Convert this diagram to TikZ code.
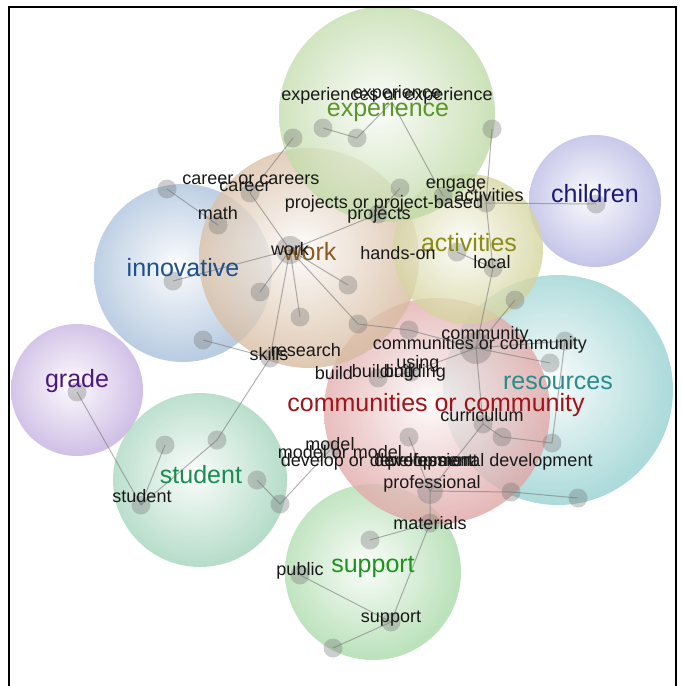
\documentclass[tikz,border=0pt]{standalone}
\usepackage{fontspec}
\setmainfont{Liberation Sans}
\definecolor{cExp}{RGB}{150,195,110}
\definecolor{cWork}{RGB}{190,145,100}
\definecolor{cInno}{RGB}{110,150,195}
\definecolor{cChild}{RGB}{135,135,210}
\definecolor{cAct}{RGB}{185,185,95}
\definecolor{cRes}{RGB}{85,180,180}
\definecolor{cComm}{RGB}{205,110,110}
\definecolor{cGrade}{RGB}{160,125,205}
\definecolor{cStud}{RGB}{105,185,145}
\definecolor{cSupp}{RGB}{115,195,115}
\definecolor{tExp}{RGB}{90,150,40}
\definecolor{tWork}{RGB}{140,90,30}
\definecolor{tInno}{RGB}{30,80,140}
\definecolor{tChild}{RGB}{25,25,125}
\definecolor{tAct}{RGB}{140,140,20}
\definecolor{tRes}{RGB}{40,140,140}
\definecolor{tComm}{RGB}{160,20,25}
\definecolor{tGrade}{RGB}{75,25,125}
\definecolor{tStud}{RGB}{25,140,80}
\definecolor{tSupp}{RGB}{25,150,25}
\newcommand\mkbub[2]{\pgfdeclareradialshading{bub#1}{\pgfpoint{-2bp}{2bp}}{color(0bp)=(white); color(5bp)=(#2!15!white); color(25bp)=(#2!60!white); color(50bp)=(#2); color(70bp)=(#2)}}
\mkbub{Exp}{cExp}\mkbub{Work}{cWork}\mkbub{Inno}{cInno}\mkbub{Child}{cChild}
\mkbub{Act}{cAct}\mkbub{Res}{cRes}\mkbub{Comm}{cComm}\mkbub{Grade}{cGrade}
\mkbub{Stud}{cStud}\mkbub{Supp}{cSupp}
\tikzset{
  bub/.style={fill opacity=0.78, draw=none},
  word/.style={font=\fontsize{18}{18}\selectfont, text=black!90, inner sep=0pt},
  topic/.style={font=\fontsize{25}{25}\selectfont, inner sep=0pt},
  link/.style={draw=black!55, line width=1pt, opacity=0.55},
  dotfill/.style={fill=black!55, fill opacity=0.35}
}
\begin{document}
\begin{tikzpicture}[x=1pt,y=-1pt]
\useasboundingbox (0,0) rectangle (681,686);
\clip (0,0) rectangle (681,686);
\fill[white] (0,0) rectangle (681,686);
% bubbles
\shade[shading=bubInno,bub] (183,273) circle (89pt);
\shade[shading=bubGrade,bub] (77,390) circle (66pt);
\shade[shading=bubStud,bub] (200,480) circle (87pt);
\shade[shading=bubSupp,bub] (373,572) circle (88pt);
\shade[shading=bubRes,bub] (558,390) circle (115pt);
\shade[shading=bubChild,bub] (595,201) circle (66pt);
\shade[shading=bubComm,bub] (437,411) circle (113pt);
\shade[shading=bubWork,bub] (309,258) circle (110pt);
\shade[shading=bubAct,bub] (468,249) circle (75pt);
\shade[shading=bubExp,bub] (387,114) circle (108pt);
% frame
\draw[line width=2pt] (9,700) -- (9,7) -- (676,7) -- (676,700);
% dot coordinates
\coordinate (eA) at (293,138); \coordinate (eB) at (323,128); \coordinate (eC) at (357,138);
\coordinate (eD) at (492,129); \coordinate (eE) at (392,102);
\coordinate (cc) at (167,189); \coordinate (ca) at (250,193); \coordinate (ma) at (218,225);
\coordinate (wk) at (290,250);
\coordinate (w1) at (348,285); \coordinate (w2) at (260,292); \coordinate (w3) at (300,317);
\coordinate (in1) at (173,281); \coordinate (in2) at (203,340); \coordinate (sk) at (270,358);
\coordinate (pb) at (400,188); \coordinate (pj) at (378,214);
\coordinate (eg) at (443,196); \coordinate (ac) at (486,203); \coordinate (av) at (457,252);
\coordinate (lo) at (493,268); \coordinate (a2) at (515,300); \coordinate (ch) at (596,204);
\coordinate (cm) at (476,348); \coordinate (r1) at (550,363); \coordinate (r2) at (565,341);
\coordinate (cu) at (483,424); \coordinate (r3) at (502,437); \coordinate (r4) at (552,443);
\coordinate (r5) at (578,498); \coordinate (r6) at (511,492);
\coordinate (pd) at (430,491); \coordinate (mt) at (430,523); \coordinate (s1) at (370,540);
\coordinate (pu) at (300,575); \coordinate (su) at (391,622); \coordinate (s2) at (333,648);
\coordinate (t1) at (280,504); \coordinate (t2) at (257,480); \coordinate (t3) at (217,440);
\coordinate (t4) at (165,445); \coordinate (st) at (141,505); \coordinate (gr) at (77,392);
\coordinate (bu) at (378,378); \coordinate (bg) at (411,372); \coordinate (dv) at (409,437);
\coordinate (mo) at (330,450); \coordinate (re) at (358,324); \coordinate (us) at (409,330);
% links
\draw[link] (eA) -- (ca);
\draw[link] (eB) -- (eC) -- (eE) -- (eg);
\draw[link] (eD) -- (ac);
\draw[link] (cc) -- (ma);
\draw[link] (ca) -- (wk);
\draw[link] (wk) -- (in1);
\draw[link] (wk) -- (pj) -- (pb);
\draw[link] (wk) -- (w1);
\draw[link] (wk) -- (w2);
\draw[link] (wk) -- (w3);
\draw[link] (wk) -- (sk);
\draw[link] (wk) -- (re);
\draw[link] (ac) -- (ch);
\draw[link] (ac) -- (lo) -- (cm);
\draw[link] (av) -- (lo);
\draw[link] (a2) -- (cm);
\draw[link] (re) -- (us) -- (cm);
\draw[link] (cm) -- (r1);
\draw[link] (cm) -- (r2) -- (r4);
\draw[link] (cm) -- (cu) -- (r3) -- (r4);
\draw[link] (r5) -- (r6) -- (pd);
\draw[link] (pd) -- (cu);
\draw[link] (pd) -- (mt) -- (s1);
\draw[link] (mt) -- (su);
\draw[link] (pu) -- (su) -- (s2);
\draw[link] (t2) -- (t1) -- (mo);
\draw[link] (st) -- (t3) -- (sk);
\draw[link] (t4) -- (st);
\draw[link] (gr) -- (st);
\draw[link] (in2) -- (sk);
\draw[link] (bu) -- (bg) -- (cm);
\draw[link] (dv) -- (pd);
% dots
\foreach \p in {eA,eB,eC,eD,cc,ca,ma,w1,w2,w3,in1,in2,sk,pb,pj,eg,ac,av,lo,a2,ch,r1,r2,cu,r3,r4,r5,r6,mt,s1,pu,su,s2,t1,t2,t3,t4,st,gr,bu,bg,dv,mo,re,us}
  \fill[dotfill] (\p) circle (9.5pt);
\fill[dotfill] (wk) circle (14pt);
\fill[dotfill] (cm) circle (16pt);
\fill[dotfill] (pd) circle (13pt);
% topic labels
\node[topic,text=tExp] (lExp) at (388,110) {experience};
\node[topic,text=tWork] (lWork) at (310,252) {work};
\node[topic,text=tInno] (lInno) at (183,268) {innovative};
\node[topic,text=tChild] (lChild) at (595,194) {children};
\node[topic,text=tAct] (lAct) at (469,243) {activities};
\node[topic,text=tRes] (lRes) at (558,383) {resources};
\node[topic,text=tComm] (lComm) at (436,405) {communities or community};
\node[topic,text=tGrade] (lGrade) at (77,381) {grade};
\node[topic,text=tStud] (lStud) at (201,475) {student};
\node[topic,text=tSupp] (lSupp) at (373,567) {support};
% words
\node[word] (w01) at (387,96) {experiences or experience};
\node[word] (w02) at (397,94) {experience};
\node[word] (w03) at (251,180) {career or careers};
\node[word] (w04) at (245,187) {career};
\node[word] (w05) at (218,213) {math};
\node[word] (w06) at (384,204) {projects or project-based};
\node[word] (w07) at (379,215) {projects};
\node[word] (w08) at (290,249) {work};
\node[word] (w09) at (398,253) {hands-on};
\node[word] (w10) at (456,186) {engage};
\node[word] (w11) at (489,195) {activities};
\node[word] (w12) at (492,262) {local};
\node[word] (w13) at (269,354) {skills};
\node[word] (w14) at (306,350) {research};
\node[word] (w15) at (480,345) {communities or community};
\node[word] (w16) at (485,335) {community};
\node[word] (w17) at (334,373) {build};
\node[word] (w18) at (383,373) {building};
\node[word] (w19) at (415,373) {building};
\node[word] (w20) at (418,364) {using};
\node[word] (w21) at (482,415) {curriculum};
\node[word] (w22) at (330,444) {model};
\node[word] (w23) at (340,452) {model or model};
\node[word] (w24) at (377,462) {develop or development};
\node[word] (w25) at (426,462) {development};
\node[word] (w26) at (490,462) {professional development};
\node[word] (w27) at (432,484) {professional};
\node[word] (w28) at (430,523) {materials};
\node[word] (w29) at (300,571) {public};
\node[word] (w30) at (391,619) {support};
\node[word] (w31) at (142,496) {student};
\end{tikzpicture}
\end{document}
